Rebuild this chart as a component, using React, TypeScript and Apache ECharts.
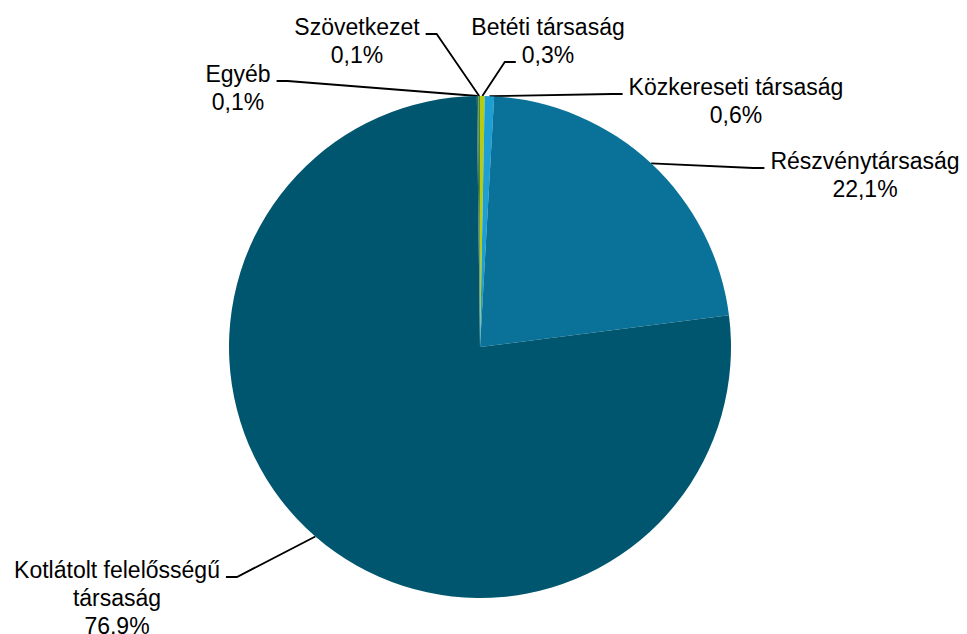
import React, { useEffect, useRef } from "react";
import * as echarts from "echarts";

const categories = [
  "Betéti társaság",
  "Közkereseti társaság",
  "Részvénytársaság",
  "Kotlátolt felelősségű\ntársaság",
  "Egyéb",
  "Szövetkezet",
];
const shares = [0.3, 0.6, 22.1, 76.9, 0.1, 0.1];
const colors = ["#B5CC12", "#1E9FD4", "#0A7298", "#01566F", "#2E6B5E", "#4E8A2A"];

// layout only: label block centres and where the leader line attaches
const labelCenters: [number, number][] = [
  [548, 41],
  [736, 101],
  [865, 175],
  [117, 598],
  [238, 88],
  [357, 41],
];
const attachLine = [1, 0, 0, 0, 0, 0];
const attachSide = ["left", "left", "left", "right", "right", "right"];

const CX = 480;
const CY = 347;
const R = 251;
const FONT_SIZE = 23;
const LINE_H = 28;
const FONT_FAMILY = "'Liberation Sans', Arial, sans-serif";

const fmtValue = (v: number) => v.toFixed(1).replace(".", ",") + "%";

export default function App() {
  const ref = useRef<HTMLDivElement>(null);
  useEffect(() => {
    if (!ref.current) return;
    const canvas = document.createElement("canvas");
    const ctx = canvas.getContext("2d")!;
    ctx.font = `${FONT_SIZE}px ${FONT_FAMILY}`;
    const measure = (s: string) => ctx.measureText(s).width;

    const total = shares.reduce((a, b) => a + b, 0);
    const anchors: [number, number][] = [];
    let cum = 0;
    shares.forEach((v) => {
      const mid = (cum + v / 2) / total;
      cum += v;
      const t = mid * Math.PI * 2;
      anchors.push([CX + R * Math.sin(t), CY - R * Math.cos(t)]);
    });

    const chart = echarts.init(ref.current, null, { renderer: "svg" });
    chart.setOption({
      animation: false,
      backgroundColor: "#ffffff",
      series: [
        {
          type: "pie",
          center: [CX, CY],
          radius: R,
          startAngle: 90,
          clockwise: true,
          avoidLabelOverlap: false,
          data: categories.map((name, i) => ({
            name,
            value: shares[i],
            itemStyle: { color: colors[i] },
          })),
          label: {
            show: true,
            position: "outside",
            fontFamily: FONT_FAMILY,
            fontSize: FONT_SIZE,
            lineHeight: LINE_H,
            color: "#000",
            formatter: (p: any) => p.name + "\n" + fmtValue(p.value),
          },
          labelLine: {
            show: true,
            length: 10,
            length2: 10,
            smooth: false,
            lineStyle: { color: "#000", width: 1.8 },
          },
          labelLayout: (p: any) => {
            const i = p.dataIndex;
            const [cx, cy] = labelCenters[i];
            const lines = (categories[i] + "\n" + fmtValue(shares[i])).split("\n");
            const top = cy - (lines.length * LINE_H) / 2;
            const li = attachLine[i];
            const ly = top + LINE_H * li + LINE_H / 2 + 7;
            const w = measure(lines[li]);
            const left = attachSide[i] === "left";
            const ax = left ? cx - w / 2 - 6 : cx + w / 2 + 6;
            const bx = left ? ax - 11 : ax + 11;
            return {
              x: cx,
              y: cy,
              align: "center",
              verticalAlign: "middle",
              labelLinePoints: [anchors[i], [bx, ly], [ax, ly]],
            };
          },
          emphasis: { disabled: true },
        },
      ],
    });
    return () => chart.dispose();
  }, []);
  return (
    <div
      ref={ref}
      style={{ position: "fixed", left: 0, top: 0, width: 967, height: 634 }}
    />
  );
}
